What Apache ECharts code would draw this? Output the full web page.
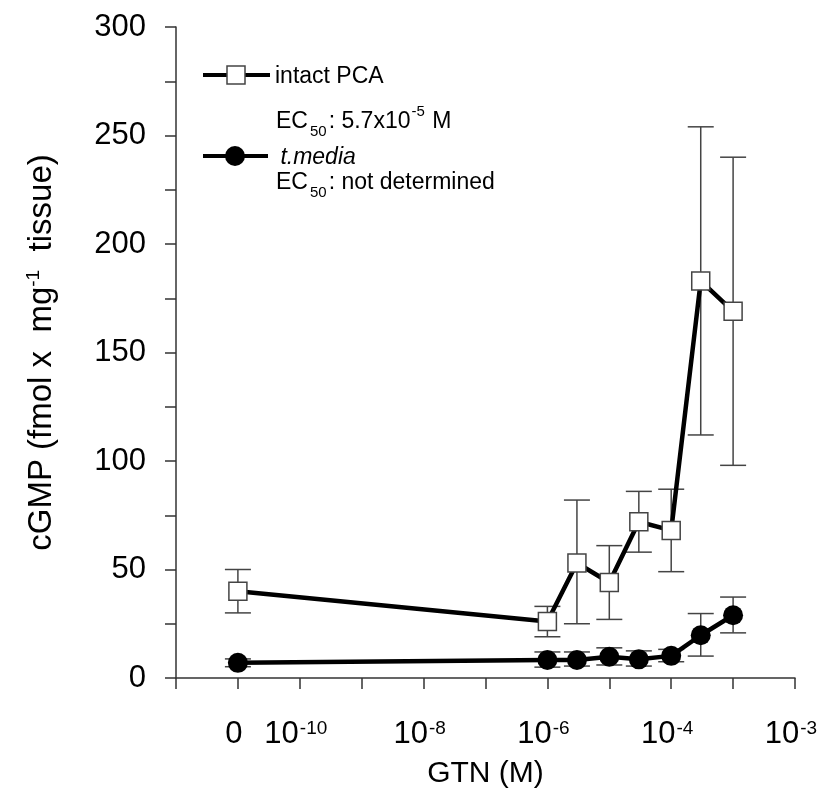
<!DOCTYPE html>
<html>
<head>
<meta charset="utf-8">
<script src="https://cdn.jsdelivr.net/npm/echarts@6/dist/echarts.min.js"></script>
<style>
  html, body { margin: 0; padding: 0; background: #fff; }
  #chart { width: 818px; height: 790px; }
</style>
</head>
<body>
<div id="chart"></div>
<script>
// GTN concentrations (M); 0 is drawn at its own slot left of the log scale
const concentrations = [0, 1e-6, 3e-6, 1e-5, 3e-5, 1e-4, 3e-4, 1e-3];
const zeroSlot = -11;

// intact PCA (open squares)
const intactMean = [40, 26, 53, 44, 72, 68, 183, 169];
const intactLow  = [30, 19, 25, 27, 58, 49, 112, 98];
const intactHigh = [50, 33, 82, 61, 86, 87, 254, 240];

// t.media (filled circles)
const mediaMean = [7, 8.3, 8.3, 9.8, 8.6, 10.2, 19.7, 28.9];
const mediaLow  = [5.2, 5, 5.5, 6, 5.5, 7.5, 10.1, 20.8];
const mediaHigh = [8.8, 12, 12, 13.9, 12.5, 13.2, 29.7, 37.3];

// tick labels as printed on the original axis
const xTickLabels = {'-11': '0', '-10': '10{sup|-10}', '-8': '10{sup|-8}', '-6': '10{sup|-6}', '-4': '10{sup|-4}', '-2': '10{sup|-3}'};
const yTicks = [0, 50, 100, 150, 200, 250, 300];

const xPos = c => c === 0 ? zeroSlot : Math.log10(c);
const toPoints = vals => concentrations.map((c, i) => [xPos(c), vals[i]]);
const toBars = (lo, hi) => concentrations.map((c, i) => [xPos(c), lo[i], hi[i]]);

const font = 'Liberation Sans, Arial, sans-serif';

function errorBars(name, data) {
  return {
    name: name,
    type: 'custom',
    z: 1,
    silent: true,
    data: data,
    renderItem: function (params, api) {
      const x = api.value(0);
      const lo = api.coord([x, api.value(1)]);
      const hi = api.coord([x, api.value(2)]);
      const half = 13;
      const style = {stroke: '#444', lineWidth: 1.5};
      return {
        type: 'group',
        children: [
          {type: 'line', shape: {x1: lo[0], y1: lo[1], x2: hi[0], y2: hi[1]}, style: style},
          {type: 'line', shape: {x1: lo[0] - half, y1: lo[1], x2: lo[0] + half, y2: lo[1]}, style: style},
          {type: 'line', shape: {x1: hi[0] - half, y1: hi[1], x2: hi[0] + half, y2: hi[1]}, style: style}
        ]
      };
    }
  };
}

const chart = echarts.init(document.getElementById('chart'), null, {renderer: 'canvas'});

const legendSub = {font: '15px ' + font, fill: '#000', verticalAlign: 'bottom', padding: [20, 2, 0, 2]};
const legendSup = {font: '15px ' + font, fill: '#000', verticalAlign: 'top', padding: [0, 1, 12, 1]};

const option = {
  animation: false,
  backgroundColor: '#fff',
  grid: {left: 176, right: 23, top: 27, bottom: 112, containLabel: false, outerBoundsMode: 'none'},
  xAxis: {
    type: 'value',
    min: -12,
    max: -2,
    interval: 1,
    name: 'GTN (M)',
    nameLocation: 'middle',
    nameGap: 81,
    nameTextStyle: {fontSize: 30, fontFamily: font, color: '#000'},
    axisLine: {onZero: false, lineStyle: {color: '#333', width: 1.5}},
    axisTick: {show: true, inside: false, length: 11, lineStyle: {color: '#333', width: 1.5}},
    splitLine: {show: false},
    axisLabel: {
      margin: 41,
      fontSize: 31,
      fontFamily: font,
      color: '#000',
      padding: [0, 8, 0, 0],
      showMinLabel: true,
      showMaxLabel: true,
      hideOverlap: false,
      formatter: v => xTickLabels[String(v)] || '',
      rich: {sup: {fontSize: 19, fontFamily: font, color: '#000', verticalAlign: 'top', padding: [0, 0, 12, 1]}}
    }
  },
  yAxis: {
    type: 'value',
    min: 0,
    max: 300,
    interval: 25,
    name: 'cGMP (fmol x  mg{sup|-1}  tissue)',
    nameLocation: 'middle',
    nameRotate: 90,
    nameGap: 117,
    nameTextStyle: {
      fontSize: 33, fontFamily: font, color: '#000',
      rich: {sup: {fontSize: 19, fontFamily: font, color: '#000', verticalAlign: 'top', padding: [0, 0, 16, 0]}}
    },
    axisLine: {show: true, lineStyle: {color: '#333', width: 1.5}},
    axisTick: {show: true, inside: false, length: 11, lineStyle: {color: '#333', width: 1.5}},
    splitLine: {show: false},
    axisLabel: {
      margin: 30,
      fontSize: 31,
      fontFamily: font,
      color: '#000',
      formatter: v => yTicks.indexOf(v) >= 0 ? String(v) : ''
    }
  },
  graphic: [
    {type: 'line', z: 10, shape: {x1: 203, y1: 75, x2: 270, y2: 75}, style: {stroke: '#000', lineWidth: 4}},
    {type: 'rect', z: 11, shape: {x: 227, y: 66, width: 18, height: 18}, style: {fill: '#fff', stroke: '#444', lineWidth: 1.5}},
    {type: 'text', z: 10, x: 275, y: 77, style: {text: 'intact PCA', font: '23px ' + font, fill: '#000', verticalAlign: 'middle'}},
    {type: 'text', z: 10, x: 276, y: 122, style: {
      text: 'EC{sub|50}: 5.7x10{sup|-5} M', font: '23px ' + font, fill: '#000', verticalAlign: 'middle',
      rich: {sub: legendSub, sup: legendSup}
    }},
    {type: 'line', z: 10, shape: {x1: 203, y1: 156, x2: 268, y2: 156}, style: {stroke: '#000', lineWidth: 4}},
    {type: 'circle', z: 11, shape: {cx: 235, cy: 156, r: 10}, style: {fill: '#000'}},
    {type: 'text', z: 10, x: 274, y: 158, style: {text: ' t.media', font: 'italic 23px ' + font, fill: '#000', verticalAlign: 'middle'}},
    {type: 'text', z: 10, x: 276, y: 183, style: {
      text: 'EC{sub|50}: not determined', font: '23px ' + font, fill: '#000', verticalAlign: 'middle',
      rich: {sub: legendSub}
    }}
  ],
  series: [
    errorBars('intact PCA err', toBars(intactLow, intactHigh)),
    errorBars('t.media err', toBars(mediaLow, mediaHigh)),
    {
      name: 'intact PCA',
      type: 'line',
      z: 3,
      data: toPoints(intactMean),
      symbol: 'rect',
      symbolSize: 18,
      showAllSymbol: true,
      lineStyle: {color: '#000', width: 4.5},
      itemStyle: {color: '#fff', borderColor: '#444', borderWidth: 1.5}
    },
    {
      name: 't.media',
      type: 'line',
      z: 4,
      data: toPoints(mediaMean),
      symbol: 'circle',
      symbolSize: 20,
      showAllSymbol: true,
      lineStyle: {color: '#000', width: 4.5},
      itemStyle: {color: '#000', borderColor: '#000', borderWidth: 0}
    }
  ]
};

chart.setOption(option);
</script>
</body>
</html>
